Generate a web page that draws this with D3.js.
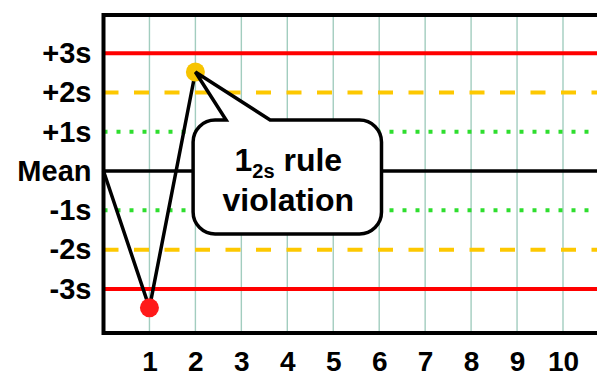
<!DOCTYPE html>
<html>
<head>
<meta charset="utf-8">
<style>
  body { margin: 0; background: #fff; }
  svg { display: block; }
  text { font-family: "Liberation Sans", Arial, sans-serif; font-weight: bold; fill: #000; }
  .axis .domain { display: none; }
</style>
<script src="https://cdn.jsdelivr.net/npm/d3@7"></script>
</head>
<body>
<script>
// Levey-Jennings chart, 1-2s rule violation
var sdLevels = [3, 2, 1, 0, -1, -2, -3];
var sdLabels = ["+3s", "+2s", "+1s", "Mean", "-1s", "-2s", "-3s"];
var runTicks = [1, 2, 3, 4, 5, 6, 7, 8, 9, 10];
var runs = [0, 1, 2];
var values = [0, -3.48, 2.52];
var calloutLine1 = ["1", "2s", " rule"];
var calloutLine2 = "violation";

var canvasWidth = 597, canvasHeight = 377;

var svg = d3.select("body").append("svg")
    .attr("width", canvasWidth)
    .attr("height", canvasHeight);

var x = d3.scaleLinear().domain([0, 10.74]).range([103.5, 597]);
var y = d3.scaleLinear().domain([-4.12, 3.97]).range([333, 15]);

// grid
svg.append("g").selectAll("line")
    .data(runTicks)
    .enter().append("line")
    .attr("x1", function(d) { return x(d); })
    .attr("x2", function(d) { return x(d); })
    .attr("y1", y(3.97))
    .attr("y2", y(-4.12))
    .attr("stroke", "#a2cdbf")
    .attr("stroke-width", 1.4);

// control limits
function limitColor(d) {
  var a = Math.abs(d);
  return a === 3 ? "#ff0000" : a === 2 ? "#fdc800" : a === 1 ? "#2ede2e" : "#000";
}
function limitDash(d) {
  var a = Math.abs(d);
  return a === 2 ? "15,15.5" : a === 1 ? "4,9" : null;
}
svg.append("g").selectAll("line")
    .data(sdLevels)
    .enter().append("line")
    .attr("x1", x(0))
    .attr("x2", canvasWidth)
    .attr("y1", function(d) { return y(d); })
    .attr("y2", function(d) { return y(d); })
    .attr("stroke", limitColor)
    .attr("stroke-width", function(d) { return d === 0 ? 3.5 : 4; })
    .attr("stroke-dasharray", limitDash);

// frame (left, top, bottom)
svg.append("path")
    .attr("d", "M" + canvasWidth + "," + y(3.97) + "H" + x(0) + "V" + y(-4.12) + "H" + canvasWidth)
    .attr("fill", "none")
    .attr("stroke", "#000")
    .attr("stroke-width", 4);

// axes
var yAxis = svg.append("g")
    .attr("class", "axis")
    .attr("transform", "translate(" + x(0) + ",0)")
    .call(d3.axisLeft(y).tickValues(sdLevels)
      .tickFormat(function(d, i) { return sdLabels[i]; })
      .tickSize(0).tickPadding(12));
yAxis.selectAll("text")
    .attr("font-size", 29)
    .attr("font-family", null)
    .attr("fill", "#000");

var xAxis = svg.append("g")
    .attr("class", "axis")
    .attr("transform", "translate(0," + y(-4.12) + ")")
    .call(d3.axisBottom(x).tickValues(runTicks).tickSize(0).tickPadding(18));
xAxis.selectAll("text")
    .attr("font-size", 28)
    .attr("font-family", null)
    .attr("fill", "#000");

// data line
var line = d3.line()
    .x(function(d, i) { return x(runs[i]); })
    .y(function(d) { return y(d); });

svg.append("path")
    .datum(values)
    .attr("d", line)
    .attr("fill", "none")
    .attr("stroke", "#000")
    .attr("stroke-width", 3.5)
    .attr("stroke-linejoin", "miter");

// callout shape
var cl = x(1.95), cr = x(6.05), ct = y(1.3), cb = y(-1.6), r = 22;
var tipX = x(runs[2]), tipY = y(values[2]);
var p = d3.path();
p.moveTo(cl + r, ct);
p.lineTo(cl + 33, ct);
p.lineTo(tipX, tipY);
p.lineTo(cl + 77, ct);
p.lineTo(cr - r, ct);
p.arcTo(cr, ct, cr, ct + r, r);
p.lineTo(cr, cb - r);
p.arcTo(cr, cb, cr - r, cb, r);
p.lineTo(cl + r, cb);
p.arcTo(cl, cb, cl, cb - r, r);
p.lineTo(cl, ct + r);
p.arcTo(cl, ct, cl + r, ct, r);
p.closePath();

svg.append("path")
    .attr("d", p.toString())
    .attr("fill", "#fff");

// points
var pointColors = ["none", "#ff1a1a", "#f7c400"];
svg.append("g").selectAll("circle")
    .data(values.slice(1))
    .enter().append("circle")
    .attr("cx", function(d, i) { return x(runs[i + 1]); })
    .attr("cy", function(d) { return y(d); })
    .attr("r", 9.5)
    .attr("fill", function(d, i) { return pointColors[i + 1]; });

svg.append("path")
    .attr("d", p.toString())
    .attr("fill", "none")
    .attr("stroke", "#000")
    .attr("stroke-width", 3.5)
    .attr("stroke-linejoin", "miter");

// callout text
var cx = (cl + cr) / 2 + 1;
var t1 = svg.append("text")
    .attr("x", cx)
    .attr("y", 170.5)
    .attr("text-anchor", "middle")
    .attr("font-size", 32);
t1.append("tspan").text(calloutLine1[0]);
t1.append("tspan").attr("font-size", 20).attr("dy", 7).text(calloutLine1[1]);
t1.append("tspan").attr("dy", -7).text(calloutLine1[2]);

svg.append("text")
    .attr("x", cx)
    .attr("y", 211)
    .attr("text-anchor", "middle")
    .attr("font-size", 32)
    .text(calloutLine2);
</script>
</body>
</html>
